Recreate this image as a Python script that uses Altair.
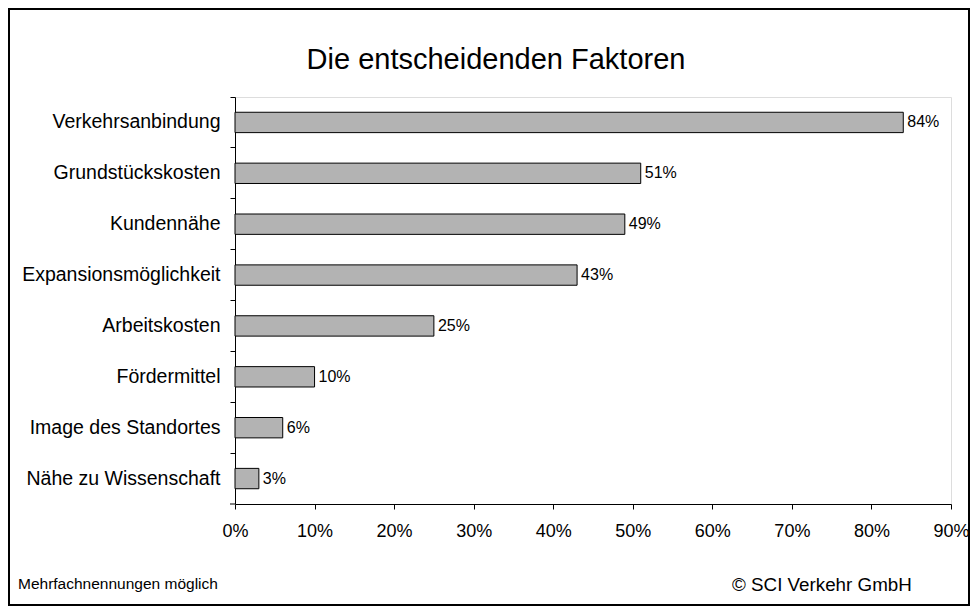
import altair as alt
import pandas as pd

categories = ["Verkehrsanbindung", "Grundstückskosten", "Kundennähe",
              "Expansionsmöglichkeit", "Arbeitskosten", "Fördermittel",
              "Image des Standortes", "Nähe zu Wissenschaft"]
values = [84, 51, 49, 43, 25, 10, 6, 3]
x_ticks = [0, 0.1, 0.2, 0.3, 0.4, 0.5, 0.6, 0.7, 0.8, 0.9]
title_text = "Die entscheidenden Faktoren"
note_left = "Mehrfachnennungen möglich"
note_right = "© SCI Verkehr GmbH"

FONT = "Liberation Sans"
W, H = 716, 407
PL, PT, PR, PB = 227, 89, 19, 102

df = pd.DataFrame({"cat": categories, "v": values})
df["pct"] = df["v"] / 100
df["label"] = df["v"].astype(str) + "%"

yenc = alt.Y("cat:N", sort=categories,
             scale=alt.Scale(paddingInner=0, paddingOuter=0),
             axis=alt.Axis(title=None, bandPosition=0, labelOffset=0,
                           tickSize=5, tickColor="black", domainColor="black",
                           labelPadding=10, labelFontSize=19.5, labelFont=FONT,
                           labelColor="black", labelLimit=400))
xenc = alt.X("pct:Q", scale=alt.Scale(domain=[0, 0.9], nice=False),
             axis=alt.Axis(title=None, values=x_ticks, format=".0%",
                           tickSize=5, tickColor="black", domainColor="black",
                           labelPadding=13, labelFontSize=18, labelFont=FONT,
                           labelColor="black", grid=False, labelFlush=False))

base = alt.Chart(df)
bars = base.mark_bar(height={"band": 0.4}, color="#b3b3b3", stroke="black",
                     strokeWidth=1).encode(x=xenc, y=yenc)
labels = base.mark_text(align="left", baseline="middle", dx=4, fontSize=16,
                        font=FONT, color="black").encode(
    x="pct:Q", y=alt.Y("cat:N", sort=categories), text="label:N")

one = alt.Data(values=[{}])
bottom_tick = alt.Chart(one).mark_rule(color="black").encode(
    x=alt.value(-5), x2=alt.value(0), y=alt.value(H))
title = alt.Chart(one).mark_text(text=title_text, fontSize=29, font=FONT,
                                 align="center", baseline="alphabetic",
                                 color="black").encode(
    x=alt.value(261), y=alt.value(-28))
nl = alt.Chart(one).mark_text(text=note_left, fontSize=15.5, font=FONT,
                              align="left", baseline="alphabetic",
                              color="black").encode(
    x=alt.value(-217), y=alt.value(492))
nr = alt.Chart(one).mark_text(text=note_right, fontSize=18.8, font=FONT,
                              align="left", baseline="alphabetic",
                              color="black").encode(
    x=alt.value(497), y=alt.value(494))
border = alt.Chart(one).mark_rect(fill=None, stroke="black",
                                  strokeWidth=2).encode(
    x=alt.value(-PL + 1), x2=alt.value(W + PR - 1),
    y=alt.value(-PT + 1), y2=alt.value(H + PB - 1))

chart = alt.layer(border, bars, labels, bottom_tick, title, nl, nr).properties(
    width=W, height=H,
    autosize=alt.AutoSizeParams(type="none"),
    padding={"left": PL, "top": PT, "right": PR, "bottom": PB},
).configure_view(stroke=None).configure(background="white")

chart.save("out.html", embed_options={"renderer": "svg", "actions": False})
